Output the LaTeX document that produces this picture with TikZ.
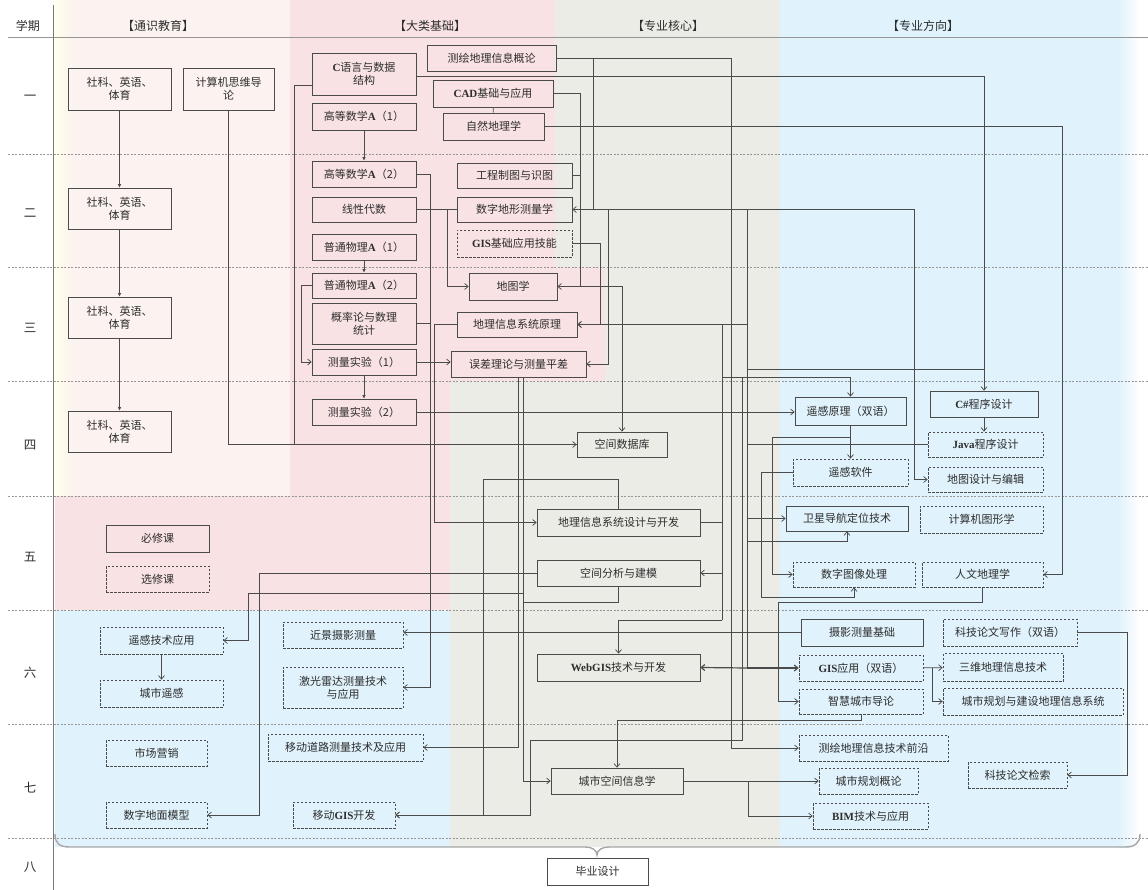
\documentclass[tikz,border=0pt]{standalone}
\usepackage{fontspec}
\setmainfont{Noto Sans CJK SC}
\newfontfamily\latf{Liberation Serif}
\usetikzlibrary{arrows.meta,calc}

\definecolor{bgpink}{RGB}{249,226,228}
\definecolor{bggrey}{RGB}{236,236,231}
\definecolor{bgblue}{RGB}{224,242,251}
\definecolor{bglight}{RGB}{252,243,240}
\definecolor{boxline}{RGB}{75,75,75}
\definecolor{txt}{RGB}{45,45,45}
\definecolor{rowline}{RGB}{150,150,150}

\newcommand{\en}[1]{{\latf\bfseries #1}}

\tikzset{every picture/.style={line width=0.75pt}}
\tikzset{
  course/.style={draw=boxline, text=txt, inner sep=1pt, align=center, font=\fontsize{11}{13}\selectfont},
  elective/.style={course, dash pattern={on 2.5pt off 1.5pt}},
  head/.style={text=txt, font=\fontsize{12}{14}\selectfont},
  term/.style={text=txt, font=\fontsize{12.5}{14}\selectfont},
  link/.style={draw=boxline, -{Straight Barb[length=3.5pt,width=6pt]}},
  seq/.style={draw=boxline, -{Latex[length=3.5pt,width=3.5pt]}},
  bus/.style={draw=boxline},
  rowsep/.style={draw=rowline, dash pattern={on 2pt off 1.5pt}},
}

\begin{document}
\begin{tikzpicture}[x=1pt,y=1pt,yscale=-1]
\useasboundingbox (0,0) rectangle (1148,890);

% background bands
\fill[bggrey] (450,0) rectangle (780,847);
\fill[bgblue] (780,0) rectangle (1118,847);
\shade[left color=bgblue, right color=white] (1118,0) rectangle (1140,847);
\fill[bglight] (55,0) rectangle (290,496);
\shade[left color=yellow!8, right color=bglight] (55,0) rectangle (72,496);
\fill[bgpink] (290,0) rectangle (555,267);
\fill[bgpink] (290,267) rectangle (605,381);
\fill[bgpink] (290,381) rectangle (450,496);
\fill[bgpink] (55,496) rectangle (450,610);
\fill[bgblue] (55,610) rectangle (450,847);

% grid
\draw[draw=rowline, line width=1pt] (8,38) -- (1148,38);
\foreach \ry in {154,267,381,496,610,724,838}
  \draw[rowsep] (8,\ry) -- (1148,\ry);
\draw[draw=rowline!80!black, line width=1pt] (53,5) -- (53,890);

% headers
\node[head] (hxq) at (28,26) {学期};
\node[head] (htx) at (158,26) {【通识教育】};
\node[head] (hdl) at (430,26) {【大类基础】};
\node[head] (hhx) at (668,26) {【专业核心】};
\node[head] (hfx) at (923,26) {【专业方向】};

% terms
\node[term] (t1) at (30,98) {一};
\node[term] (t2) at (30,213) {二};
\node[term] (t3) at (30,328) {三};
\node[term] (t4) at (30,445) {四};
\node[term] (t5) at (30,557) {五};
\node[term] (t6) at (30,673) {六};
\node[term] (t7) at (30,788) {七};
\node[term] (t8) at (30,867) {八};

% general education
\node[course, minimum width=103pt, minimum height=42pt] (sk1) at (119.5,89) {社科、英语、\\体育};
\node[course, minimum width=91pt, minimum height=42pt] (jsj) at (228.5,89) {计算机思维导\\论};
\node[course, minimum width=103pt, minimum height=41pt] (sk2) at (119.5,208.5) {社科、英语、\\体育};
\node[course, minimum width=103pt, minimum height=41pt] (sk3) at (119.5,317.5) {社科、英语、\\体育};
\node[course, minimum width=103pt, minimum height=41pt] (sk4) at (119.5,431.5) {社科、英语、\\体育};
\node[course, minimum width=103pt, minimum height=27pt] (bx) at (157.5,538.5) {必修课};
\node[elective, minimum width=103pt, minimum height=26pt] (xx) at (157.5,579) {选修课};

% basic courses
\node[course, minimum width=104pt, minimum height=42pt] (cyy) at (364,74) {\en{C}语言与数据\\结构};
\node[course, minimum width=104pt, minimum height=27pt] (gs1) at (364,116.5) {高等数学\en{A}（1）};
\node[course, minimum width=104pt, minimum height=26pt] (gs2) at (364,174) {高等数学\en{A}（2）};
\node[course, minimum width=104pt, minimum height=25pt] (xd) at (364,209.5) {线性代数};
\node[course, minimum width=104pt, minimum height=26pt] (wl1) at (364,247) {普通物理\en{A}（1）};
\node[course, minimum width=104pt, minimum height=25pt] (wl2) at (364,285.5) {普通物理\en{A}（2）};
\node[course, minimum width=104pt, minimum height=41pt] (gl) at (364,323.5) {概率论与数理\\统计};
\node[course, minimum width=104pt, minimum height=26pt] (sy1) at (364,362) {测量实验（1）};
\node[course, minimum width=104pt, minimum height=26pt] (sy2) at (364,412) {测量实验（2）};
\node[course, minimum width=129pt, minimum height=26pt] (chgl) at (491.5,58) {测绘地理信息概论};
\node[course, minimum width=120pt, minimum height=27pt] (cad) at (493,93.5) {\en{CAD}基础与应用};
\node[course, minimum width=101pt, minimum height=27pt] (zr) at (493.5,126.5) {自然地理学};
\node[course, minimum width=115pt, minimum height=25pt] (gc) at (514.5,175.5) {工程制图与识图};
\node[course, minimum width=115pt, minimum height=25pt] (sz) at (514.5,209.5) {数字地形测量学};
\node[elective, minimum width=115pt, minimum height=27pt] (gisjc) at (514.5,243.5) {\en{GIS}基础应用技能};
\node[course, minimum width=88pt, minimum height=27pt] (dt) at (513,286.5) {地图学};
\node[course, minimum width=120pt, minimum height=25pt] (dlyl) at (517,324.5) {地理信息系统原理};
\node[course, minimum width=135pt, minimum height=26pt] (wc) at (518.5,364) {误差理论与测量平差};

% core courses
\node[course, minimum width=90pt, minimum height=25pt] (kjsjk) at (622,444.5) {空间数据库};
\node[course, minimum width=163pt, minimum height=27pt] (sjkf) at (618.5,522.5) {地理信息系统设计与开发};
\node[course, minimum width=163pt, minimum height=26pt] (fx) at (618.5,573) {空间分析与建模};
\node[course, minimum width=163pt, minimum height=27pt] (web) at (618.5,667.5) {\en{WebGIS}技术与开发};
\node[course, minimum width=132pt, minimum height=26pt] (cskj) at (617,781) {城市空间信息学};

% direction courses
\node[course, minimum width=111pt, minimum height=28pt] (ygyl) at (850.5,411) {遥感原理（双语）};
\node[course, minimum width=108pt, minimum height=26pt] (cs) at (984,404) {\en{C\#}程序设计};
\node[elective, minimum width=115pt, minimum height=25pt] (java) at (985.5,444.5) {\en{Java}程序设计};
\node[elective, minimum width=115pt, minimum height=27pt] (ygrj) at (850.5,472.5) {遥感软件};
\node[elective, minimum width=115pt, minimum height=25pt] (dtsj) at (985.5,479.5) {地图设计与编辑};
\node[course, minimum width=122pt, minimum height=25pt] (wx) at (847,518.5) {卫星导航定位技术};
\node[elective, minimum width=123pt, minimum height=27pt] (txx) at (981.5,519.5) {计算机图形学};
\node[elective, minimum width=122pt, minimum height=25pt] (sztx) at (854,574.5) {数字图像处理};
\node[elective, minimum width=121pt, minimum height=25pt] (rw) at (982.5,574.5) {人文地理学};
\node[course, minimum width=122pt, minimum height=27pt] (sy) at (862,632.5) {摄影测量基础};
\node[elective, minimum width=134pt, minimum height=27pt] (kjxz) at (1010,632.5) {科技论文写作（双语）};
\node[elective, minimum width=124pt, minimum height=26pt] (gisyy) at (861,668) {\en{GIS}应用（双语）};
\node[elective, minimum width=120pt, minimum height=28pt] (sw) at (1003,667.5) {三维地理信息技术};
\node[elective, minimum width=124pt, minimum height=25pt] (zh) at (861,701.5) {智慧城市导论};
\node[elective, minimum width=180pt, minimum height=27pt] (csgh) at (1033,701.5) {城市规划与建设地理信息系统};
\node[elective, minimum width=149pt, minimum height=26pt] (qy) at (873.5,748) {测绘地理信息技术前沿};
\node[elective, minimum width=99pt, minimum height=26pt] (ghgl) at (868.5,781) {城市规划概论};
\node[elective, minimum width=99pt, minimum height=26pt] (kjjs) at (1017.5,775) {科技论文检索};
\node[elective, minimum width=115pt, minimum height=26pt] (bim) at (870.5,816) {\en{BIM}技术与应用};

% left lower electives
\node[elective, minimum width=123pt, minimum height=27pt] (ygyy) at (161.5,640.5) {遥感技术应用};
\node[elective, minimum width=123pt, minimum height=27pt] (csyg) at (161.5,693.5) {城市遥感};
\node[elective, minimum width=101pt, minimum height=26pt] (scyx) at (156.5,753) {市场营销};
\node[elective, minimum width=101pt, minimum height=26pt] (szdm) at (156.5,815) {数字地面模型};
\node[elective, minimum width=120pt, minimum height=26pt] (jj) at (343,635) {近景摄影测量};
\node[elective, minimum width=120pt, minimum height=41pt] (jg) at (343,687.5) {激光雷达测量技术\\与应用};
\node[elective, minimum width=155pt, minimum height=27pt] (yd) at (345.5,747.5) {移动道路测量技术及应用};
\node[elective, minimum width=102pt, minimum height=26pt] (ydgis) at (344,815) {移动\en{GIS}开发};

% graduation
\draw[draw=gray!70, line width=1.4pt] (55,834) .. controls (55,843) and (59,847) .. (70,847) -- (585,847) .. controls (592,847) and (597,850) .. (597,855) .. controls (597,850) and (602,847) .. (609,847) -- (1125,847) .. controls (1135,847) and (1140,843) .. (1140,834);
\node[course, minimum width=101pt, minimum height=27pt] (bysj) at (597.5,871.5) {毕业设计};

% junctions
\coordinate (cadbus) at ($(cad.east)+(27,0)$);
\coordinate (chj) at ($(chgl.east)+(37,0)$);
\coordinate (dtbus) at ($(sz.east)+(342,0)$);
\coordinate (tb) at ($(sz.east)+(175,0)$);
\coordinate (tbe) at (tb |- gisyy.west);
\coordinate (wxj) at ($(tb)+(0,332)$);
\coordinate (csj) at ($(cs.north)+(0,-21)$);
\coordinate (wcb) at ($(wc.south)+(5,0)$);
\coordinate (ygj) at ($(ygyy.east)+(25,-47.5)$);
\coordinate (ga) at ($(sjkf.north)+(-135.5,-29)$);
\coordinate (rb) at ($(sjkf.east)+(22,-198)$);
\coordinate (rbe) at ($(rb)+(0,295.5)$);
\coordinate (mb) at ($(tb)+(-5,167.5)$);
\coordinate (mbe) at ($(mb)+(0,363)$);
\coordinate (mbb) at ($(mbe)+(-212,0)$);
\coordinate (yga) at ($(ygyl.south)+(-78.5,12)$);
\coordinate (ygb) at ($(ygrj.west)+(-31,124.5)$);
\coordinate (rwb) at ($(rw.south)+(-204.5,15)$);
\coordinate (gj) at ($(gisyy.east)+(9,0)$);
\coordinate (cj) at ($(cskj.east)+(65,0)$);

% general education links
\draw[seq] (sk1) -- (sk2);
\draw[seq] (sk2) -- (sk3);
\draw[seq] (sk3) -- (sk4);
\draw[link] (jsj.south) |- (kjsjk.west);
\draw[bus] ($(cyy.west)+(0,11)$) -- ++(-17,0) |- (kjsjk.west);
\draw[link] ($(cyy.east)+(0,2)$) -| (cs.north);

% basic course links
\draw[seq] (gs1) -- (gs2);
\draw[seq] (wl1) -- (wl2);
\draw[seq] (sy1) -- (sy2);
\draw[link] (wl2.west) -- ++(-10,0) |- (sy1.west);
\draw[link] (gs2.east) -- ++(14,0) |- (jg.east);
\draw[bus] (gl.east) -- ++(14,0);
\draw[link] (sy1.east) -- (sy1.east -| wc.west);
\draw[bus] (xd.east) -- (sz.west);
\draw[link] ($(xd.east)+(31,0)$) |- (dt.west);
\draw[link] (dlyl.west) -- ++(-22,0) |- (sjkf.west);
\draw[bus] (cad) -- (zr);
\draw[bus] (cad.east) -- (cadbus);
\draw[bus] (gc.east) -- (gc.east -| cadbus);
\draw[link] (cadbus) |- (sz.east);
\draw[link] (cadbus) |- (dt.east);
\draw[link] (cadbus |- dt.east) -| (kjsjk.north);
\draw[link] (chgl.east) -- ++(175,0) |- (qy.west);
\draw[bus] (chj) |- (sz.east);
\draw[link] (sz.east) -- (dtbus) |- (dtsj.west);
\draw[link] ($(sz.east)+(36,0)$) |- (wc.east);
\draw[link] (gisjc.east) -- ++(28,0) |- (dlyl.east);
\draw[link] (zr.east) -- ++(518,0) |- (rw.east);
\draw[link] (sy2.east) -- (sy2.east -| ygyl.west);

% trunk from 数字地形测量学
\draw[bus, line width=1.5pt] (tb) -- (tbe);
\draw[link] (tb |- dlyl.east) -- (dlyl.east);
\draw[bus] (tb |- csj) -- (csj);
\draw[bus] (tb |- java.west) -- (java.west);
\draw[link] (tb |- wx.west) -- (wx.west);
\draw[link] (wxj) -| (wx.south);
\draw[link, line width=1.2pt] (tbe) -- (gisyy.west);
\draw[link, line width=1.2pt] (tbe) -- (web.east);

% 误差理论与测量平差
\draw[link] (wc.south) |- (yd.east);
\draw[link] (wcb) |- (cskj.west);
\draw[link] (wcb |- ygj) -- (ygj) |- (ygyy.east);

% core course links
\draw[link] (fx.west) -- ++(-277,0) |- (szdm.east);
\draw[bus] (fx.south) -- ++(0,16) -- ++(-95,0);
\draw[link] (sjkf.north) |- (ga) |- (ydgis.east);
\draw[bus] (rb) -- (rbe);
\draw[bus] (sjkf.east) -- (sjkf.east -| rb);
\draw[link] (fx.east -| rb) -- (fx.east);
\draw[link] (rbe) -| (web.north);
\draw[link] (mb) -- (mbe) -- (mbb) |- (ydgis.east);
\draw[link] (rb |- mb) -| (ygyl.north);

% direction links
\draw[link] (ygyl) -- (ygrj);
\draw[link] (ygyl.south |- yga) -- (yga) |- (sztx.west);
\draw[link] (ygrj.west) -| (ygb) -| (sztx.south);
\draw[link] (cs.south) -- (cs.south |- java.north);
\draw[link] (rw.south) |- (rwb) |- (zh.west);
\draw[link] (sy.west) -- (sy.west -| jj.east);
\draw[link] (gisyy) -- (sw);
\draw[link] (gj) |- (csgh.west);
\draw[link] (kjxz.east) -- ++(50,0) |- (kjjs.east);
\draw[link] (zh.south) -- ++(0,6) -| (cskj.north);
\draw[link] (cskj.east) -- (cskj.east -| ghgl.west);
\draw[link] (cj) |- (bim.west);
\draw[link] (ygyy) -- (csyg);

\end{tikzpicture}
\end{document}
